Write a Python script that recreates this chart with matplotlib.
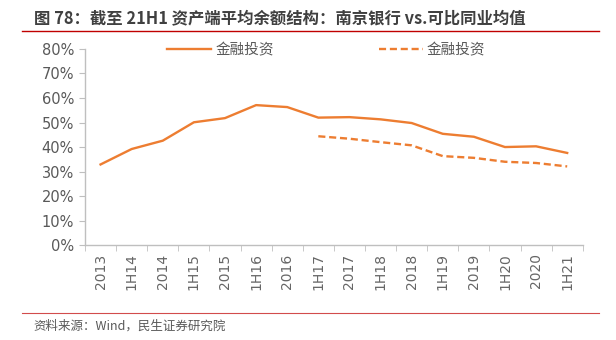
import matplotlib.pyplot as plt
from matplotlib.lines import Line2D

plt.rcParams['font.family'] = ['Noto Sans CJK SC', 'DejaVu Sans']

periods = ['2013', '1H14', '2014', '1H15', '2015', '1H16', '2016', '1H17',
           '2017', '1H18', '2018', '1H19', '2019', '1H20', '2020', '1H21']
# 南京银行 金融投资占比 (%)
njcb = [32.9, 39.2, 42.6, 50.1, 51.8, 57.1, 56.3, 52.0,
        52.2, 51.3, 49.8, 45.4, 44.2, 40.0, 40.3, 37.6]
# 可比同业均值, 从1H17开始
peer_periods = periods[7:]
peer = [44.4, 43.4, 42.0, 40.7, 36.3, 35.6, 34.0, 33.5, 32.1]

orange = '#ED7D31'
grey = '#595959'
axis_grey = '#BFBFBF'

fig = plt.figure(figsize=(6.16, 3.4), dpi=100)
ax = fig.add_axes([0.138, 0.279, 0.808, 0.577])

x = list(range(len(periods)))
px = [periods.index(p) for p in peer_periods]
ax.plot(x, njcb, color=orange, lw=1.7, solid_joinstyle='round')
ax.plot(px, peer, color=orange, lw=1.7, ls=(0, (3, 1.6)))

ax.set_xlim(-0.5, len(periods) - 0.5)
ax.set_ylim(0, 80)
ax.set_yticks(range(0, 81, 10))
ax.set_yticklabels([f'{v}%' for v in range(0, 81, 10)],
                   family='DejaVu Sans', fontsize=10.5, color=grey)

# category labels at centres, tick marks between categories
ax.set_xticks(x)
ax.set_xticklabels(periods, rotation=90, family='DejaVu Sans',
                   fontsize=10, color='#666666')
ax.tick_params(axis='x', which='major', length=0, pad=6)
ax.set_xticks([i - 0.5 for i in range(len(periods) + 1)], minor=True)
ax.tick_params(axis='x', which='minor', length=4, color=axis_grey, direction='out')
ax.tick_params(axis='y', length=4, color=axis_grey, direction='out', pad=4)

for s in ['top', 'right']:
    ax.spines[s].set_visible(False)
for s in ['left', 'bottom']:
    ax.spines[s].set_color(axis_grey)
    ax.spines[s].set_linewidth(1)

handles = [Line2D([], [], color=orange, lw=1.7),
           Line2D([], [], color=orange, lw=1.7, ls=(0, (3, 1.6)))]
leg = fig.legend(handles, ['金融投资', '金融投资'], ncol=2, frameon=False,
                 loc='center left', bbox_to_anchor=(0.262, 0.852),
                 fontsize=10.5, handlelength=3.0, handletextpad=0.3,
                 columnspacing=7.2, borderaxespad=0)
for t in leg.get_texts():
    t.set_color(grey)

fig.text(0.055, 0.947, '图 78：截至 21H1 资产端平均余额结构：南京银行 vs.可比同业均值',
         fontsize=11.8, fontweight='bold', color='#404040', va='center')
fig.add_artist(Line2D([0.036, 0.972], [0.909, 0.909], color='#C00000', lw=1))
fig.add_artist(Line2D([0.036, 0.972], [0.08, 0.08], color='#C00000', lw=0.8, alpha=0.7))
fig.text(0.055, 0.041, '资料来源：Wind，民生证券研究院', fontsize=9, color=grey, va='center')

fig.savefig('out.png', dpi=100)
